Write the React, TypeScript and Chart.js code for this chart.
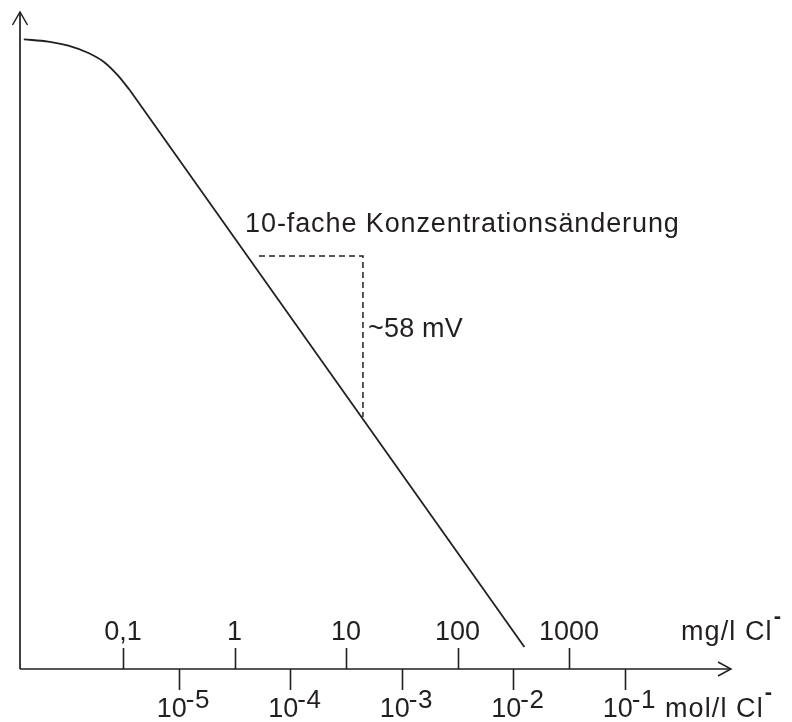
import { useEffect, useRef } from 'react';
import { Chart, registerables } from 'chart.js';

Chart.register(...registerables);

// x = log10 of concentration in mg/l Cl- (schematic), y = electrode potential in mV (relative)
const kneeLogC = [-1.89, -1.67, -1.49, -1.31, -1.16, -1.05, -0.94];
const kneeMV = [230, 229.2, 227.7, 225, 221.4, 217, 211.5];
const slopeLogC = [-0.94, 2.6];
const slopeMV = [211.5, 8];
const stepLogC = [0.22, 1.152, 1.152];
const stepMV = [150.9, 150.9, 92.1];

const mgTicks = [-1, 0, 1, 2, 3];
const mgLabels = ['0,1', '1', '10', '100', '1000'];
const molTicks = [-0.5, 0.5, 1.5, 2.5, 3.5];
const molExponents = ['-5', '-4', '-3', '-2', '-1'];

const titleText = '10-fache Konzentrationsänderung';
const stepText = '~58 mV';
const mgUnit = 'mg/l Cl';
const molUnit = 'mol/l Cl';

const X_MIN = -1.924;
const X_MAX = 4.453;
const Y_MIN = 0;
const Y_MAX = 240;

const INK = '#231f20';
const FONT = '"Liberation Sans", Arial, Helvetica, sans-serif';

function toPts(xs: number[], ys: number[]) {
  return xs.map((v, i) => ({ x: v, y: ys[i] }));
}

const schematicAxes = {
  id: 'schematicAxes',
  afterDatasetsDraw(chart: any) {
    const { ctx, chartArea: a, scales } = chart;
    const xs = scales.x;
    const ys = scales.y;
    const left = xs.getPixelForValue(X_MIN);
    const right = xs.getPixelForValue(X_MAX);
    const base = ys.getPixelForValue(Y_MIN);
    const top = ys.getPixelForValue(Y_MAX);
    ctx.save();
    ctx.strokeStyle = INK;
    ctx.fillStyle = INK;
    ctx.lineWidth = 1.7;
    ctx.lineCap = 'butt';
    // axes
    ctx.beginPath();
    ctx.moveTo(left, base);
    ctx.lineTo(left, top);
    ctx.moveTo(left, base);
    ctx.lineTo(right, base);
    ctx.stroke();
    // arrow heads
    ctx.lineWidth = 1.5;
    ctx.beginPath();
    ctx.moveTo(left - 7.5, top + 13);
    ctx.lineTo(left, top);
    ctx.lineTo(left + 7.5, top + 13);
    ctx.moveTo(right - 13, base - 7);
    ctx.lineTo(right, base);
    ctx.lineTo(right - 13, base + 7);
    ctx.stroke();
    // ticks
    ctx.lineWidth = 1.6;
    ctx.beginPath();
    mgTicks.forEach((t) => {
      const px = Math.round(xs.getPixelForValue(t)) + 0.5;
      ctx.moveTo(px, base);
      ctx.lineTo(px, base - 21);
    });
    molTicks.forEach((t) => {
      const px = Math.round(xs.getPixelForValue(t)) + 0.5;
      ctx.moveTo(px, base);
      ctx.lineTo(px, base + 21);
    });
    ctx.stroke();

    ctx.textBaseline = 'alphabetic';
    // mg labels
    ctx.font = `27px ${FONT}`;
    ctx.textAlign = 'center';
    (ctx as any).letterSpacing = '0px';
    mgTicks.forEach((t, i) => {
      ctx.fillText(mgLabels[i], xs.getPixelForValue(t), base - 29);
    });
    // mol labels
    ctx.textAlign = 'left';
    molTicks.forEach((t, i) => {
      const px = xs.getPixelForValue(t);
      const bx = px - 22;
      ctx.font = `27px ${FONT}`;
      (ctx as any).letterSpacing = '0px';
      ctx.fillText('10', bx, base + 48);
      const w = ctx.measureText('10').width;
      ctx.font = `26px ${FONT}`;
      (ctx as any).letterSpacing = '0.5px';
      ctx.fillText(molExponents[i], bx + w - 1, base + 39);
    });
    // unit labels
    ctx.font = `27px ${FONT}`;
    (ctx as any).letterSpacing = '1.1px';
    ctx.fillText(mgUnit, a.left + 661, base - 29);
    let w = ctx.measureText(mgUnit).width;
    ctx.font = `bold 22px ${FONT}`;
    (ctx as any).letterSpacing = '0px';
    ctx.fillText('-', a.left + 661 + w + 1, base - 46);
    ctx.font = `27px ${FONT}`;
    (ctx as any).letterSpacing = '1.1px';
    ctx.fillText(molUnit, a.left + 645, base + 48);
    w = ctx.measureText(molUnit).width;
    ctx.font = `bold 22px ${FONT}`;
    (ctx as any).letterSpacing = '0px';
    ctx.fillText('-', a.left + 645 + w + 1, base + 30);
    // annotations
    ctx.font = `27px ${FONT}`;
    (ctx as any).letterSpacing = '0.9px';
    ctx.fillText(titleText, xs.getPixelForValue(stepLogC[0]) - 14, ys.getPixelForValue(stepMV[0]) - 24);
    (ctx as any).letterSpacing = '0.2px';
    ctx.fillText(stepText, xs.getPixelForValue(stepLogC[1]) + 5, 337);
    ctx.restore();
  },
};

export default function App() {
  const ref = useRef<HTMLCanvasElement | null>(null);
  useEffect(() => {
    document.body.style.margin = '0';
    const canvas = ref.current;
    if (!canvas) return;
    const chart = new Chart(canvas, {
      type: 'scatter',
      data: {
        datasets: [
          {
            data: toPts(kneeLogC, kneeMV),
            showLine: true,
            borderColor: INK,
            borderWidth: 1.8,
            pointRadius: 0,
            cubicInterpolationMode: 'monotone',
          },
          {
            data: toPts(slopeLogC, slopeMV),
            showLine: true,
            borderColor: INK,
            borderWidth: 1.8,
            pointRadius: 0,
            tension: 0,
          },
          {
            data: toPts(stepLogC, stepMV),
            showLine: true,
            borderColor: INK,
            borderWidth: 1.5,
            borderDash: [6, 4],
            pointRadius: 0,
            tension: 0,
          },
        ],
      },
      options: {
        responsive: false,
        animation: false,
        layout: { padding: { left: 20, right: 61, top: 12, bottom: 53 } },
        scales: {
          x: { type: 'linear', min: X_MIN, max: X_MAX, display: false },
          y: { type: 'linear', min: Y_MIN, max: Y_MAX, display: false },
        },
        plugins: { legend: { display: false }, tooltip: { enabled: false } },
      },
      plugins: [schematicAxes],
    });
    return () => chart.destroy();
  }, []);
  return (
    <div style={{ width: 792, height: 722, background: '#fff' }}>
      <canvas ref={ref} width={792} height={722} style={{ display: 'block' }} />
    </div>
  );
}
